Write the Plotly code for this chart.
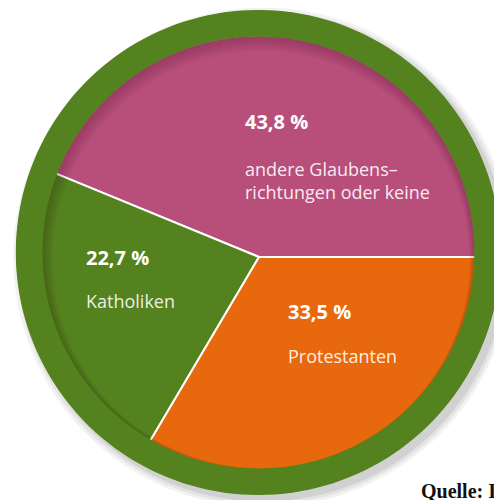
import math
import plotly.graph_objects as go

# ---- data ----
categories = ["andere Glaubensrichtungen oder keine", "Katholiken", "Protestanten"]
label_texts = ["andere Glaubens–<br>richtungen oder keine", "Katholiken", "Protestanten"]
values = [43.8, 22.7, 33.5]
pct_texts = ["43,8 %", "22,7 %", "33,5 %"]
colors = ["#B84F7B", "#53821E", "#E8690D"]
ring_color = "#53821E"
source_text = "Quelle: I"

OFF = 8  # page body margin
W, H = 502 - OFF, 500 - OFF


def px(x, y):
    return (x - OFF) / W, 1 - (y - OFF) / H


def circle_path(cx, cy, r, n=180):
    pts = []
    for i in range(n):
        t = 2 * math.pi * i / n
        X, Y = px(cx + r * math.cos(t), cy + r * math.sin(t))
        pts.append(f"{X:.5f},{Y:.5f}")
    return "M" + " L".join(pts) + " Z"


# geometry (window pixels, y down)
pie_c = (259, 257)
pie_r = 222
ring_c = (258.3, 252.5)
ring_out = 242
ring_in = 216

first_share = values[0] / sum(values)
rot = 90 - 360 * first_share

dx0, dy1 = px(pie_c[0] - pie_r, pie_c[1] - pie_r)
dx1, dy0 = px(pie_c[0] + pie_r, pie_c[1] + pie_r)

fig = go.Figure()
fig.add_trace(go.Pie(
    labels=categories, values=values, sort=False, direction="counterclockwise",
    rotation=rot, textinfo="none", hoverinfo="skip", showlegend=False,
    marker=dict(colors=colors, line=dict(color="white", width=2)),
    domain=dict(x=[dx0, dx1], y=[dy0, dy1]),
))

shapes = []
# outer soft shadow (below)
for k, a in [(8, 0.05), (5, 0.06), (2, 0.08)]:
    cx, cy = ring_c[0] + 5, ring_c[1] + 5
    x0, y1 = px(cx - ring_out - k, cy - ring_out - k)
    x1, y0 = px(cx + ring_out + k, cy + ring_out + k)
    shapes.append(dict(type="circle", xref="paper", yref="paper", layer="below",
                       x0=x0, x1=x1, y0=y0, y1=y1,
                       fillcolor=f"rgba(0,0,0,{a})", line=dict(width=0)))
x0, y1 = px(ring_c[0] - ring_out, ring_c[1] - ring_out)
x1, y0 = px(ring_c[0] + ring_out, ring_c[1] + ring_out)
shapes.append(dict(type="circle", xref="paper", yref="paper", layer="below",
                   x0=x0, x1=x1, y0=y0, y1=y1, fillcolor=ring_color, line=dict(width=0)))

# inset shadow crescents (above pie)
ux, uy = 0.35, 0.94
for d in [1.5, 3, 4.5, 6, 7.5]:
    inner = circle_path(ring_c[0] + d * ux, ring_c[1] + d * uy, ring_in - d)
    outer = circle_path(ring_c[0], ring_c[1], ring_in)
    shapes.append(dict(type="path", xref="paper", yref="paper", layer="above",
                       path=outer + " " + inner, fillrule="evenodd",
                       fillcolor="rgba(40,0,20,0.045)", line=dict(width=0)))
# ring annulus (above pie)
shapes.append(dict(type="path", xref="paper", yref="paper", layer="above",
                   path=circle_path(ring_c[0], ring_c[1], ring_out + 0.5) + " " +
                   circle_path(ring_c[0], ring_c[1], ring_in),
                   fillrule="evenodd", fillcolor=ring_color, line=dict(width=0)))

# annotations
pct_pos = [(243, 122), (84, 257), (286, 311)]
lab_pos = [(243, 181), (84, 301), (286, 356)]
ann = []
for i in range(3):
    x, y = px(*pct_pos[i])
    ann.append(dict(x=x, y=y, xref="paper", yref="paper", xanchor="left", yanchor="middle",
                    text=f"<b>{pct_texts[i]}</b>", showarrow=False, align="left",
                    font=dict(family="Open Sans", size=20, color="white")))
    x, y = px(*lab_pos[i])
    ann.append(dict(x=x, y=y, xref="paper", yref="paper", xanchor="left", yanchor="middle",
                    text=label_texts[i], showarrow=False, align="left",
                    font=dict(family="Open Sans", size=18, color="rgba(255,255,255,0.9)")))
x, y = px(419, 491)
ann.append(dict(x=x, y=y, xref="paper", yref="paper", xanchor="left", yanchor="middle",
                text=f"<b>{source_text}</b>", showarrow=False,
                font=dict(family="Liberation Serif", size=20, color="#111111")))

fig.update_layout(width=W, height=H, margin=dict(l=0, r=0, t=0, b=0),
                  paper_bgcolor="white", plot_bgcolor="white",
                  shapes=shapes, annotations=ann, showlegend=False)
fig.write_html("out.html")
